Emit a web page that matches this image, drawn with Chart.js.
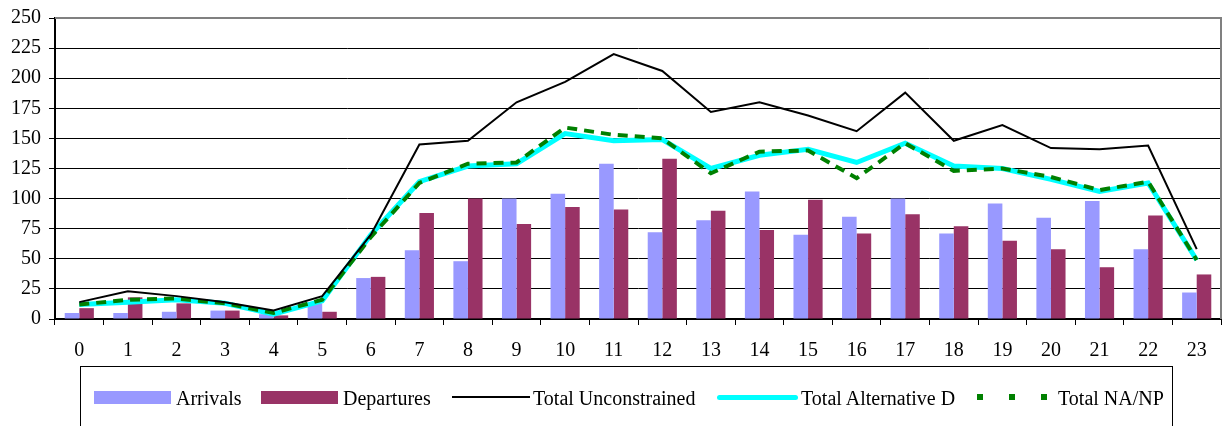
<!DOCTYPE html>
<html>
<head>
<meta charset="utf-8">
<script src="https://cdn.jsdelivr.net/npm/chart.js@4.4.1/dist/chart.umd.min.js"></script>
<style>
  html, body { margin: 0; padding: 0; background: #fff; }
  #wrap { position: relative; width: 1222px; height: 426px; overflow: hidden; background: #fff; }
  #c { position: absolute; left: 0; top: -2px; }
  #legend { position: absolute; left: 80px; top: 366px; width: 1093px; height: 80px;
            border: 1px solid #000; box-sizing: border-box; font-family: "Liberation Serif", "Times New Roman", serif;
            font-size: 20px; color: #000; }
  .sw { position: absolute; }
  .sw svg { display: block; }
  .lbl { position: absolute; top: 19px; white-space: nowrap; line-height: 24px; }
</style>
</head>
<body>
<div id="wrap">
  <canvas id="c" width="1222" height="426"></canvas>
  <div id="legend"></div>
</div>
<script>
// ---- data ----
const hours = ["0","1","2","3","4","5","6","7","8","9","10","11","12","13","14","15","16","17","18","19","20","21","22","23"];
const arrivals   = [5, 5, 6, 7, 4, 13, 34, 57, 48, 100, 104, 129, 72, 82, 106, 70, 85, 100, 71, 96, 84, 98, 58, 22];
const departures = [9, 18, 13, 7, 3, 6, 35, 88, 100, 79, 93, 91, 133, 90, 74, 99, 71, 87, 77, 65, 58, 43, 86, 37];
const totalUnconstrained = [14, 23, 19, 14, 7, 19, 70, 145, 148, 180, 197, 220, 206, 172, 180, 169, 156, 188, 148, 161, 142, 141, 144, 58];
const totalAltD  = [12, 14, 16, 13, 4, 15, 70, 114, 127, 129, 154, 148, 149, 125, 136, 141, 130, 146, 127, 125, 116, 106, 113, 49];
const totalNANP  = [12, 16, 17, 13, 5, 16, 68, 113, 129, 130, 159, 153, 150, 121, 139, 140, 117, 146, 123, 125, 118, 107, 114, 49];
const yTicks = [0, 25, 50, 75, 100, 125, 150, 175, 200, 225, 250];
const seriesNames = ["Arrivals", "Departures", "Total Unconstrained", "Total Alternative D", "Total NA/NP"];

const FONT = "'Liberation Serif', 'Times New Roman', serif";

const frame = {
  id: 'frame',
  afterDraw(chart) {
    const a = chart.chartArea, ctx = chart.ctx;
    ctx.save();
    ctx.strokeStyle = '#808080';
    ctx.lineWidth = 2;
    ctx.beginPath();
    ctx.moveTo(a.left, a.top);
    ctx.lineTo(a.right, a.top);
    ctx.lineTo(a.right, a.bottom);
    ctx.stroke();
    ctx.restore();
  }
};

const chart = new Chart(document.getElementById('c'), {
  data: {
    labels: hours,
    datasets: [
      { type: 'bar', label: seriesNames[0], data: arrivals, backgroundColor: '#9999FF', order: 10,
        categoryPercentage: 0.6, barPercentage: 1.0 },
      { type: 'bar', label: seriesNames[1], data: departures, backgroundColor: '#993366', order: 10,
        categoryPercentage: 0.6, barPercentage: 1.0 },
      { type: 'line', label: seriesNames[2], data: totalUnconstrained, borderColor: '#000000', borderWidth: 2,
        pointRadius: 0, tension: 0, fill: false, order: 1 },
      { type: 'line', label: seriesNames[3], data: totalAltD, borderColor: '#00FFFF', borderWidth: 5,
        pointRadius: 0, tension: 0, fill: false, order: 3 },
      { type: 'line', label: seriesNames[4], data: totalNANP, borderColor: '#008000', borderWidth: 4,
        borderDash: [10, 7], borderCapStyle: 'butt', pointRadius: 0, tension: 0, fill: false, order: 2 }
    ]
  },
  options: {
    responsive: false,
    devicePixelRatio: 1,
    animation: false,
    layout: { padding: { top: 12, right: 1, bottom: 65, left: 0 } },
    plugins: { legend: { display: false }, tooltip: { enabled: false } },
    scales: {
      x: {
        type: 'category',
        offset: true,
        grid: { offset: true, drawOnChartArea: false, drawTicks: true, tickLength: 6, color: '#000' },
        border: { color: '#000', width: 2 },
        ticks: { font: { family: FONT, size: 20 }, color: '#000', padding: 14, maxRotation: 0, autoSkip: false },
        afterFit(s) { s.height = 40; }
      },
      y: {
        min: 0, max: 250,
        afterBuildTicks(s) { s.ticks = yTicks.map(v => ({ value: v })); },
        grid: { color: (c) => (c.tick && c.tick.value === 250) ? 'rgba(0,0,0,0)' : '#000', tickColor: '#000', tickLength: 6, lineWidth: 1 },
        border: { color: '#000', width: 2 },
        ticks: { font: { family: FONT, size: 20 }, color: '#000', padding: 8 },
        afterFit(s) { s.width = 55; }
      }
    }
  },
  plugins: [frame]
});

// ---- HTML legend built from dataset labels ----
const legendPos = [
  { sw: 13, sww: 77, text: 95 },
  { sw: 180, sww: 77, text: 262 },
  { sw: 371, sww: 78, text: 452 },
  { sw: 636, sww: 81, text: 720 },
  { sw: 896, sww: 71, text: 977 }
];
const lg = document.getElementById('legend');
chart.data.datasets.forEach((ds, i) => {
  const p = legendPos[i];
  const sw = document.createElement('div');
  sw.className = 'sw';
  sw.style.left = p.sw + 'px';
  sw.style.width = p.sww + 'px';
  if (ds.type === 'bar') {
    sw.style.top = '24px'; sw.style.height = '13px'; sw.style.background = ds.backgroundColor;
  } else if (!ds.borderDash) {
    const h = ds.borderWidth;
    sw.style.top = (30 - h / 2) + 'px'; sw.style.height = h + 'px'; sw.style.background = ds.borderColor;
    if (h > 3) sw.style.borderRadius = (h / 2) + 'px';
  } else {
    sw.style.top = '26px'; sw.style.height = '8px';
    sw.innerHTML = '<svg width="' + p.sww + '" height="8"><line x1="0" y1="4" x2="' + p.sww +
      '" y2="4" stroke="' + ds.borderColor + '" stroke-width="6" stroke-dasharray="6,26"/></svg>';
  }
  lg.appendChild(sw);
  const t = document.createElement('div');
  t.className = 'lbl';
  t.style.left = p.text + 'px';
  t.textContent = ds.label;
  lg.appendChild(t);
});
</script>
</body>
</html>
